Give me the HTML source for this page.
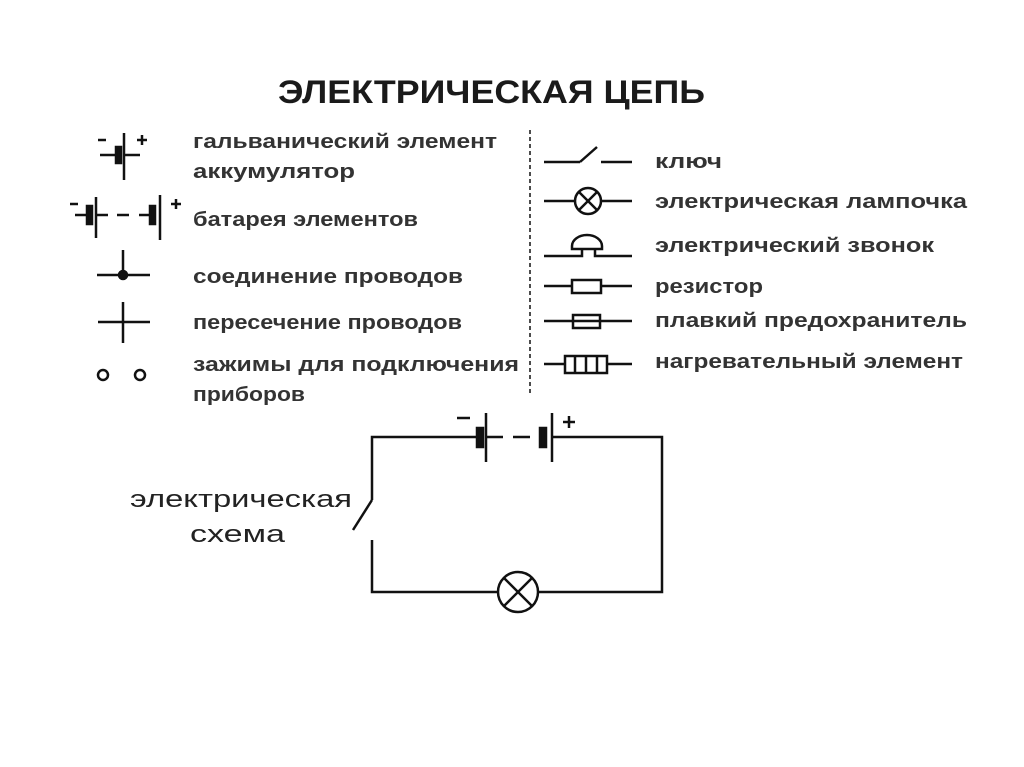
<!DOCTYPE html>
<html><head><meta charset="utf-8"><style>
html,body{margin:0;padding:0;background:#fff;}
svg{display:block}
text{font-family:"Liberation Sans",sans-serif;fill:#1a1a1a;}
.t{font-size:20px;font-weight:bold;fill:#333}
.c{font-size:24px;fill:#222}
</style></head><body>
<svg width="1024" height="767" viewBox="0 0 1024 767" xmlns="http://www.w3.org/2000/svg">
<rect width="1024" height="767" fill="#fff"/>
<text x="278" y="103" textLength="427" lengthAdjust="spacingAndGlyphs" style="font-size:32px;font-weight:bold" fill="#222">ЭЛЕКТРИЧЕСКАЯ ЦЕПЬ</text>
<g stroke="#111" stroke-width="2.5" fill="none">
<line x1="100" y1="155" x2="117" y2="155"/>
<rect x="116" y="147" width="5" height="16" fill="#111"/>
<line x1="124" y1="133" x2="124" y2="180"/>
<line x1="124" y1="155" x2="140" y2="155"/>
<line x1="98" y1="140" x2="106" y2="140"/>
<line x1="137" y1="140" x2="147" y2="140"/><line x1="142" y1="135" x2="142" y2="145"/>
<line x1="75" y1="215" x2="87" y2="215"/>
<rect x="87" y="206" width="5" height="18" fill="#111"/>
<line x1="96" y1="197" x2="96" y2="238"/>
<line x1="96" y1="215" x2="108" y2="215"/>
<line x1="117" y1="215" x2="129" y2="215"/>
<line x1="139" y1="215" x2="150" y2="215"/>
<rect x="150" y="206" width="5" height="18" fill="#111"/>
<line x1="160" y1="195" x2="160" y2="240"/>
<line x1="70" y1="204" x2="78" y2="204"/>
<line x1="171" y1="204" x2="181" y2="204"/><line x1="176" y1="199" x2="176" y2="209"/>
<line x1="97" y1="275" x2="150" y2="275"/>
<line x1="123" y1="250" x2="123" y2="275"/>
<circle cx="123" cy="275" r="4" fill="#111"/>
<line x1="98" y1="322" x2="150" y2="322"/>
<line x1="123" y1="302" x2="123" y2="343"/>
<circle cx="103" cy="375" r="5"/>
<circle cx="140" cy="375" r="5"/>
<line x1="530" y1="130" x2="530" y2="395" stroke-width="1.5" stroke-dasharray="4,3"/>
<line x1="544" y1="162" x2="580" y2="162"/>
<line x1="580" y1="162" x2="597" y2="147"/>
<line x1="601" y1="162" x2="632" y2="162"/>
<line x1="544" y1="201" x2="575" y2="201"/>
<circle cx="588" cy="201" r="13"/>
<line x1="579" y1="192" x2="597" y2="210"/><line x1="597" y1="192" x2="579" y2="210"/>
<line x1="601" y1="201" x2="632" y2="201"/>
<polyline points="544,256 582,256 582,249"/>
<polyline points="595,249 595,256 632,256"/>
<path d="M572,249 L572,246 A15,11 0 0 1 602,246 L602,249 Z"/>
<line x1="544" y1="286" x2="572" y2="286"/>
<rect x="572" y="280" width="29" height="13"/>
<line x1="601" y1="286" x2="632" y2="286"/>
<line x1="544" y1="321" x2="632" y2="321"/>
<rect x="573" y="315" width="27" height="13" fill="#fff"/>
<line x1="573" y1="321" x2="600" y2="321"/>
<line x1="544" y1="364" x2="565" y2="364"/>
<rect x="565" y="356" width="42" height="17"/>
<line x1="575" y1="356" x2="575" y2="373"/><line x1="586" y1="356" x2="586" y2="373"/><line x1="597" y1="356" x2="597" y2="373"/>
<line x1="607" y1="364" x2="632" y2="364"/>
<polyline points="372,500 372,437 477,437"/>
<rect x="477" y="428" width="6" height="19" fill="#111"/>
<line x1="486" y1="413" x2="486" y2="462"/>
<line x1="486" y1="437" x2="503" y2="437"/>
<line x1="513" y1="437" x2="530" y2="437"/>
<rect x="540" y="428" width="6" height="19" fill="#111"/>
<line x1="552" y1="413" x2="552" y2="462"/>
<polyline points="552,437 662,437 662,592 538,592"/>
<line x1="372" y1="500" x2="353" y2="530"/>
<polyline points="372,540 372,592 498,592"/>
<circle cx="518" cy="592" r="20"/>
<line x1="504" y1="578" x2="532" y2="606"/><line x1="532" y1="578" x2="504" y2="606"/>
<line x1="457" y1="418" x2="470" y2="418"/>
<line x1="563" y1="422" x2="575" y2="422"/><line x1="569" y1="416" x2="569" y2="428"/>
</g>
<text class="t" x="193" y="148" textLength="304" lengthAdjust="spacingAndGlyphs">гальванический элемент</text>
<text class="t" x="193" y="178" textLength="162" lengthAdjust="spacingAndGlyphs">аккумулятор</text>
<text class="t" x="193" y="226" textLength="225" lengthAdjust="spacingAndGlyphs">батарея элементов</text>
<text class="t" x="193" y="283" textLength="270" lengthAdjust="spacingAndGlyphs">соединение проводов</text>
<text class="t" x="193" y="329" textLength="269" lengthAdjust="spacingAndGlyphs">пересечение проводов</text>
<text class="t" x="193" y="371" textLength="326" lengthAdjust="spacingAndGlyphs">зажимы для подключения</text>
<text class="t" x="193" y="401" textLength="112" lengthAdjust="spacingAndGlyphs">приборов</text>
<text class="t" x="655" y="168" textLength="67" lengthAdjust="spacingAndGlyphs">ключ</text>
<text class="t" x="655" y="208" textLength="312" lengthAdjust="spacingAndGlyphs">электрическая лампочка</text>
<text class="t" x="655" y="252" textLength="279" lengthAdjust="spacingAndGlyphs">электрический звонок</text>
<text class="t" x="655" y="293" textLength="108" lengthAdjust="spacingAndGlyphs">резистор</text>
<text class="t" x="655" y="327" textLength="312" lengthAdjust="spacingAndGlyphs">плавкий предохранитель</text>
<text class="t" x="655" y="368" textLength="308" lengthAdjust="spacingAndGlyphs">нагревательный элемент</text>
<text class="c" x="130" y="507" textLength="222" lengthAdjust="spacingAndGlyphs">электрическая</text>
<text class="c" x="190" y="542" textLength="95" lengthAdjust="spacingAndGlyphs">схема</text>
</svg>
</body></html>
